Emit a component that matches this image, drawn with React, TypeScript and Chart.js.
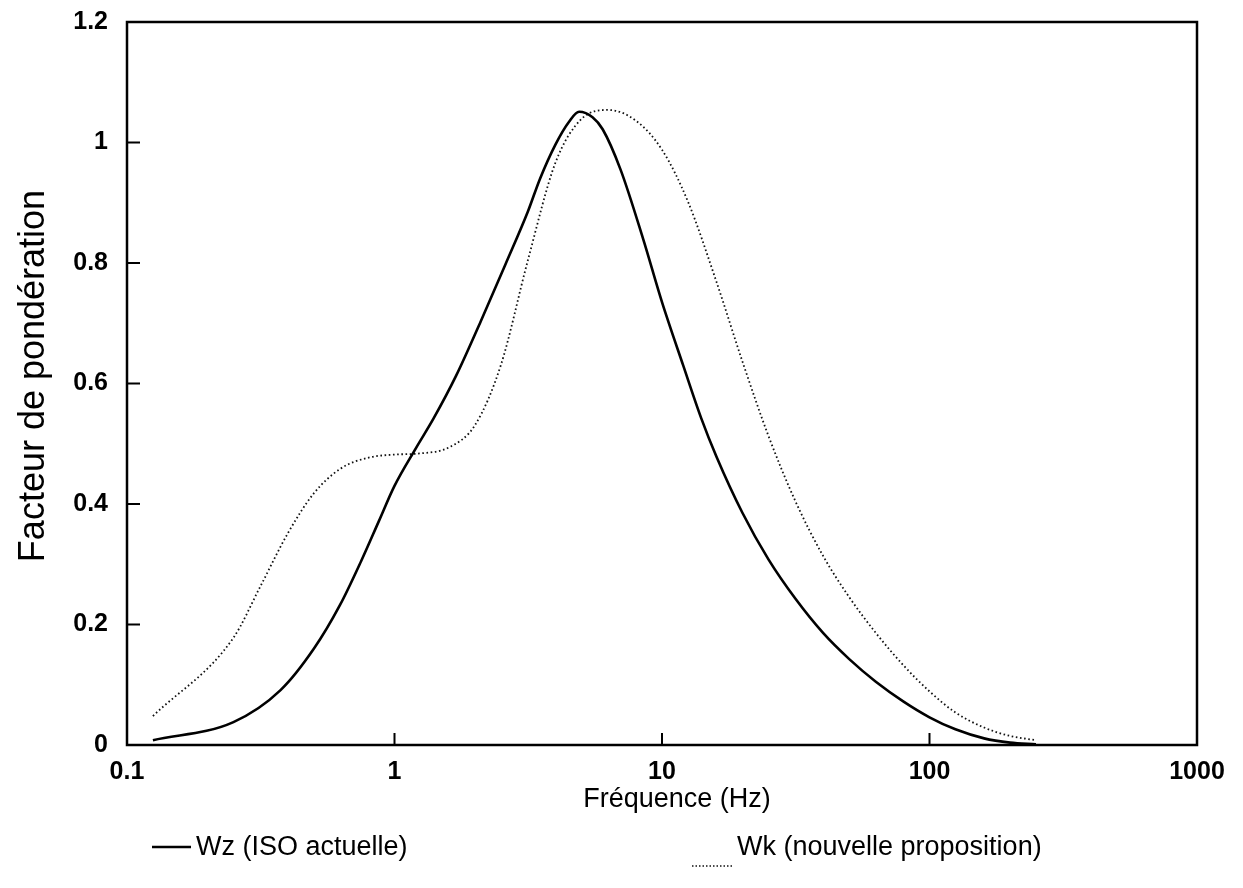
import React, { useEffect, useRef } from "react";
import { Chart, registerables } from "chart.js";

Chart.register(...registerables);

// Wz (ISO actuelle)
const wzFreq = [0.125, 0.25, 0.375, 0.5, 0.625, 0.75, 0.875, 1.0, 1.2, 1.4, 1.7, 2.1, 2.6, 3.15, 3.5, 4.0, 4.5, 4.9, 5.5, 6.0, 7.0, 8.5, 10, 12, 14, 16, 20, 25, 31.5, 40, 50, 63, 80, 100, 125, 160, 200, 250];
const wzValues = [0.008, 0.038, 0.091, 0.16, 0.232, 0.305, 0.372, 0.43, 0.492, 0.542, 0.613, 0.703, 0.798, 0.885, 0.94, 0.997, 1.035, 1.051, 1.042, 1.022, 0.955, 0.84, 0.735, 0.63, 0.543, 0.478, 0.385, 0.308, 0.243, 0.186, 0.143, 0.105, 0.072, 0.046, 0.026, 0.011, 0.004, 0.001];

// Wk (nouvelle proposition)
const wkFreq = [0.125, 0.25, 0.315, 0.4, 0.5, 0.63, 0.8, 1, 1.25, 1.6, 2, 2.5, 3.15, 4, 5, 6.3, 8, 10, 12.5, 16, 20, 25, 31.5, 40, 50, 63, 80, 100, 125, 160, 200, 250];
const wkValues = [0.048, 0.178, 0.263, 0.352, 0.418, 0.459, 0.477, 0.482, 0.484, 0.494, 0.531, 0.631, 0.804, 0.967, 1.039, 1.054, 1.036, 0.988, 0.902, 0.768, 0.636, 0.513, 0.405, 0.314, 0.246, 0.186, 0.132, 0.089, 0.054, 0.029, 0.015, 0.008];

const xTickValues = [0.1, 1, 10, 100, 1000];
const xTickLabels = ["0.1", "1", "10", "100", "1000"];
const yTickValues = [0, 0.2, 0.4, 0.6, 0.8, 1, 1.2];
const yTickLabels = ["0", "0.2", "0.4", "0.6", "0.8", "1", "1.2"];

const seriesLabels = ["Wz (ISO actuelle)", "Wk (nouvelle proposition)"];
const xTitle = "Fréquence (Hz)";
const yTitle = "Facteur de pondération";

const FONT = "'Liberation Sans', Arial, Helvetica, sans-serif";

const framePlugin = {
  id: "frameTicks",
  afterDatasetsDraw(chart: any) {
    const { ctx, chartArea } = chart;
    const xs = chart.scales.x;
    const ys = chart.scales.y;
    ctx.save();
    ctx.strokeStyle = "#000";
    ctx.lineWidth = 2.5;
    ctx.strokeRect(chartArea.left, chartArea.top, chartArea.right - chartArea.left, chartArea.bottom - chartArea.top);
    ctx.lineWidth = 2;
    ctx.beginPath();
    xTickValues.forEach((v) => {
      const px = xs.getPixelForValue(v);
      ctx.moveTo(px, chartArea.bottom);
      ctx.lineTo(px, chartArea.bottom - 12);
    });
    yTickValues.forEach((v) => {
      const py = ys.getPixelForValue(v);
      ctx.moveTo(chartArea.left, py);
      ctx.lineTo(chartArea.left + 13, py);
    });
    ctx.stroke();
    ctx.restore();
  },
};

const textPlugin = {
  id: "titlesLegend",
  afterDraw(chart: any) {
    const { ctx } = chart;
    const ds = chart.data.datasets;
    const items = [
      { x0: 152, x1: 191, lineY: 847, textX: 196, dash: [] as number[], width: 2.5 },
      { x0: 692, x1: 734, lineY: 866, textX: 737, dash: [1.5, 2], width: 1.6 },
    ];
    ctx.save();
    ctx.fillStyle = "#000";
    ctx.textBaseline = "middle";
    ctx.textAlign = "center";
    // axis titles, placed as in the original
    ctx.font = `27px ${FONT}`;
    ctx.fillText(xTitle, 677, 800);
    ctx.save();
    ctx.translate(34, 376);
    ctx.rotate(-Math.PI / 2);
    ctx.font = `36px ${FONT}`;
    ctx.fillText(yTitle, 0, 0);
    ctx.restore();
    // legend
    ctx.font = `27px ${FONT}`;
    ctx.textAlign = "left";
    items.forEach((it, i) => {
      const d = ds[i];
      ctx.strokeStyle = d.borderColor;
      ctx.lineWidth = it.width;
      ctx.setLineDash(it.dash);
      ctx.beginPath();
      ctx.moveTo(it.x0, it.lineY);
      ctx.lineTo(it.x1, it.lineY);
      ctx.stroke();
      ctx.setLineDash([]);
      ctx.fillText(d.label, it.textX, 848);
    });
    ctx.restore();
  },
};

export default function App() {
  const canvasRef = useRef<HTMLCanvasElement | null>(null);

  useEffect(() => {
    const canvas = canvasRef.current;
    if (!canvas) return;
    const chart = new Chart(canvas, {
      type: "line",
      data: {
        datasets: [
          {
            label: seriesLabels[0],
            data: wzFreq.map((f, i) => ({ x: f, y: wzValues[i] })),
            borderColor: "#000",
            borderWidth: 2.6,
            pointRadius: 0,
            cubicInterpolationMode: "monotone",
            fill: false,
          },
          {
            label: seriesLabels[1],
            data: wkFreq.map((f, i) => ({ x: f, y: wkValues[i] })),
            borderColor: "#111",
            borderWidth: 1.8,
            borderDash: [1.6, 2.6],
            pointRadius: 0,
            cubicInterpolationMode: "monotone",
            fill: false,
          },
        ],
      },
      options: {
        animation: false,
        responsive: true,
        maintainAspectRatio: false,
        layout: { padding: { left: 0, top: 22, right: 46, bottom: 0 } },
        plugins: {
          legend: { display: false },
          tooltip: { enabled: false },
        },
        scales: {
          x: {
            type: "logarithmic",
            min: 0.1,
            max: 1000,
            grid: { display: false, drawTicks: false },
            border: { display: false },
            afterBuildTicks: (scale: any) => {
              scale.ticks = xTickValues.map((v) => ({ value: v }));
            },
            afterFit: (scale: any) => {
              scale.height = 143;
            },
            ticks: {
              autoSkip: false,
              maxRotation: 0,
              padding: 12,
              color: "#000",
              font: { family: FONT, size: 25, weight: "bold" },
              callback: (_v: any, i: number) => xTickLabels[i],
            },
            title: { display: false, text: xTitle },
          },
          y: {
            type: "linear",
            min: 0,
            max: 1.2,
            grid: { display: false, drawTicks: false },
            border: { display: false },
            afterBuildTicks: (scale: any) => {
              scale.ticks = yTickValues.map((v) => ({ value: v }));
            },
            afterFit: (scale: any) => {
              scale.width = 127;
              scale.paddingTop = 0;
              scale.paddingBottom = 0;
            },
            ticks: {
              padding: 19,
              color: "#000",
              font: { family: FONT, size: 25, weight: "bold" },
              callback: (_v: any, i: number) => yTickLabels[i],
            },
            title: { display: false, text: yTitle },
          },
        },
      },
      plugins: [framePlugin, textPlugin],
    } as any);
    return () => chart.destroy();
  }, []);

  return (
    <div style={{ position: "fixed", left: 0, top: 0, width: 1243, height: 888, background: "#fff" }}>
      <canvas ref={canvasRef} />
    </div>
  );
}
